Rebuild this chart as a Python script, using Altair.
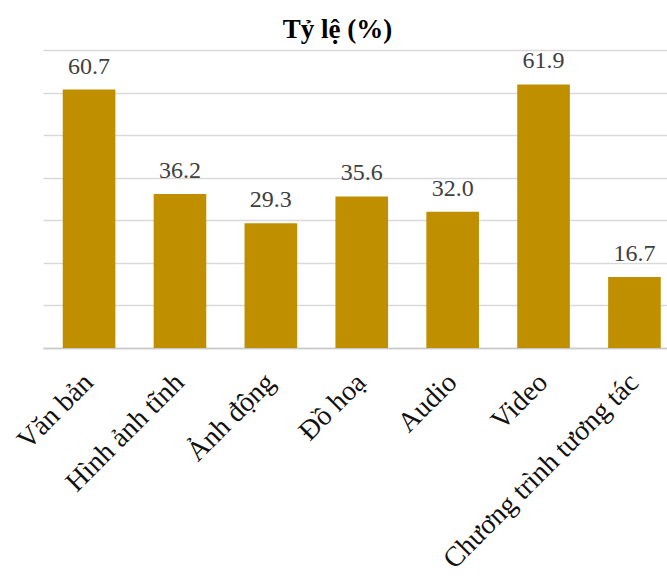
import altair as alt
import pandas as pd

categories = ["Văn bản", "Hình ảnh tĩnh", "Ảnh động", "Đồ hoạ", "Audio", "Video", "Chương trình tương tác"]
values = [60.7, 36.2, 29.3, 35.6, 32.0, 61.9, 16.7]
title_text = ["Tỷ lệ (%)"]

df = pd.DataFrame({"cat": categories, "val": values})

x = alt.X("cat:N", sort=categories, title=None,
          scale=alt.Scale(paddingInner=0.421, paddingOuter=0.143, align=0.76),
          axis=alt.Axis(labelAngle=-45, labelAlign="right", labelBaseline="middle",
                        labelFont="Liberation Serif", labelFontSize=28, labelColor="#111111",
                        labelPadding=30, ticks=False, domainColor="#c8c8c8", domainWidth=1.5,
                        labelLimit=0))
y = alt.Y("val:Q", title=None,
          scale=alt.Scale(domain=[0, 70], nice=False),
          axis=alt.Axis(values=[0, 10, 20, 30, 40, 50, 60, 70], labels=False, ticks=False,
                        domain=False, grid=True, gridColor="#d9d9d9", gridWidth=1.5))

bars = alt.Chart(df).mark_bar(color="#BF8F00").encode(x=x, y=y)
labels = alt.Chart(df).mark_text(font="Liberation Serif", fontSize=24, color="#404040",
                                 baseline="alphabetic", dy=-16).encode(
    x=alt.X("cat:N", sort=categories), y="val:Q", text=alt.Text("val:Q", format=".1f"))
title = alt.Chart(pd.DataFrame({"t": title_text})).mark_text(
    font="Liberation Serif", fontSize=27, fontWeight="bold", color="#000000",
    baseline="alphabetic", align="center").encode(
    x=alt.value(294.5), y=alt.value(-12), text="t:N")

chart = alt.layer(bars, labels, title).properties(
    width=624, height=298,
    autosize=alt.AutoSizeParams(type="none"),
    padding={"left": 43, "top": 50, "right": 0, "bottom": 233},
).configure(background="white").configure_view(stroke=None)

chart.save("out.html", embed_options={"renderer": "svg", "actions": False})
